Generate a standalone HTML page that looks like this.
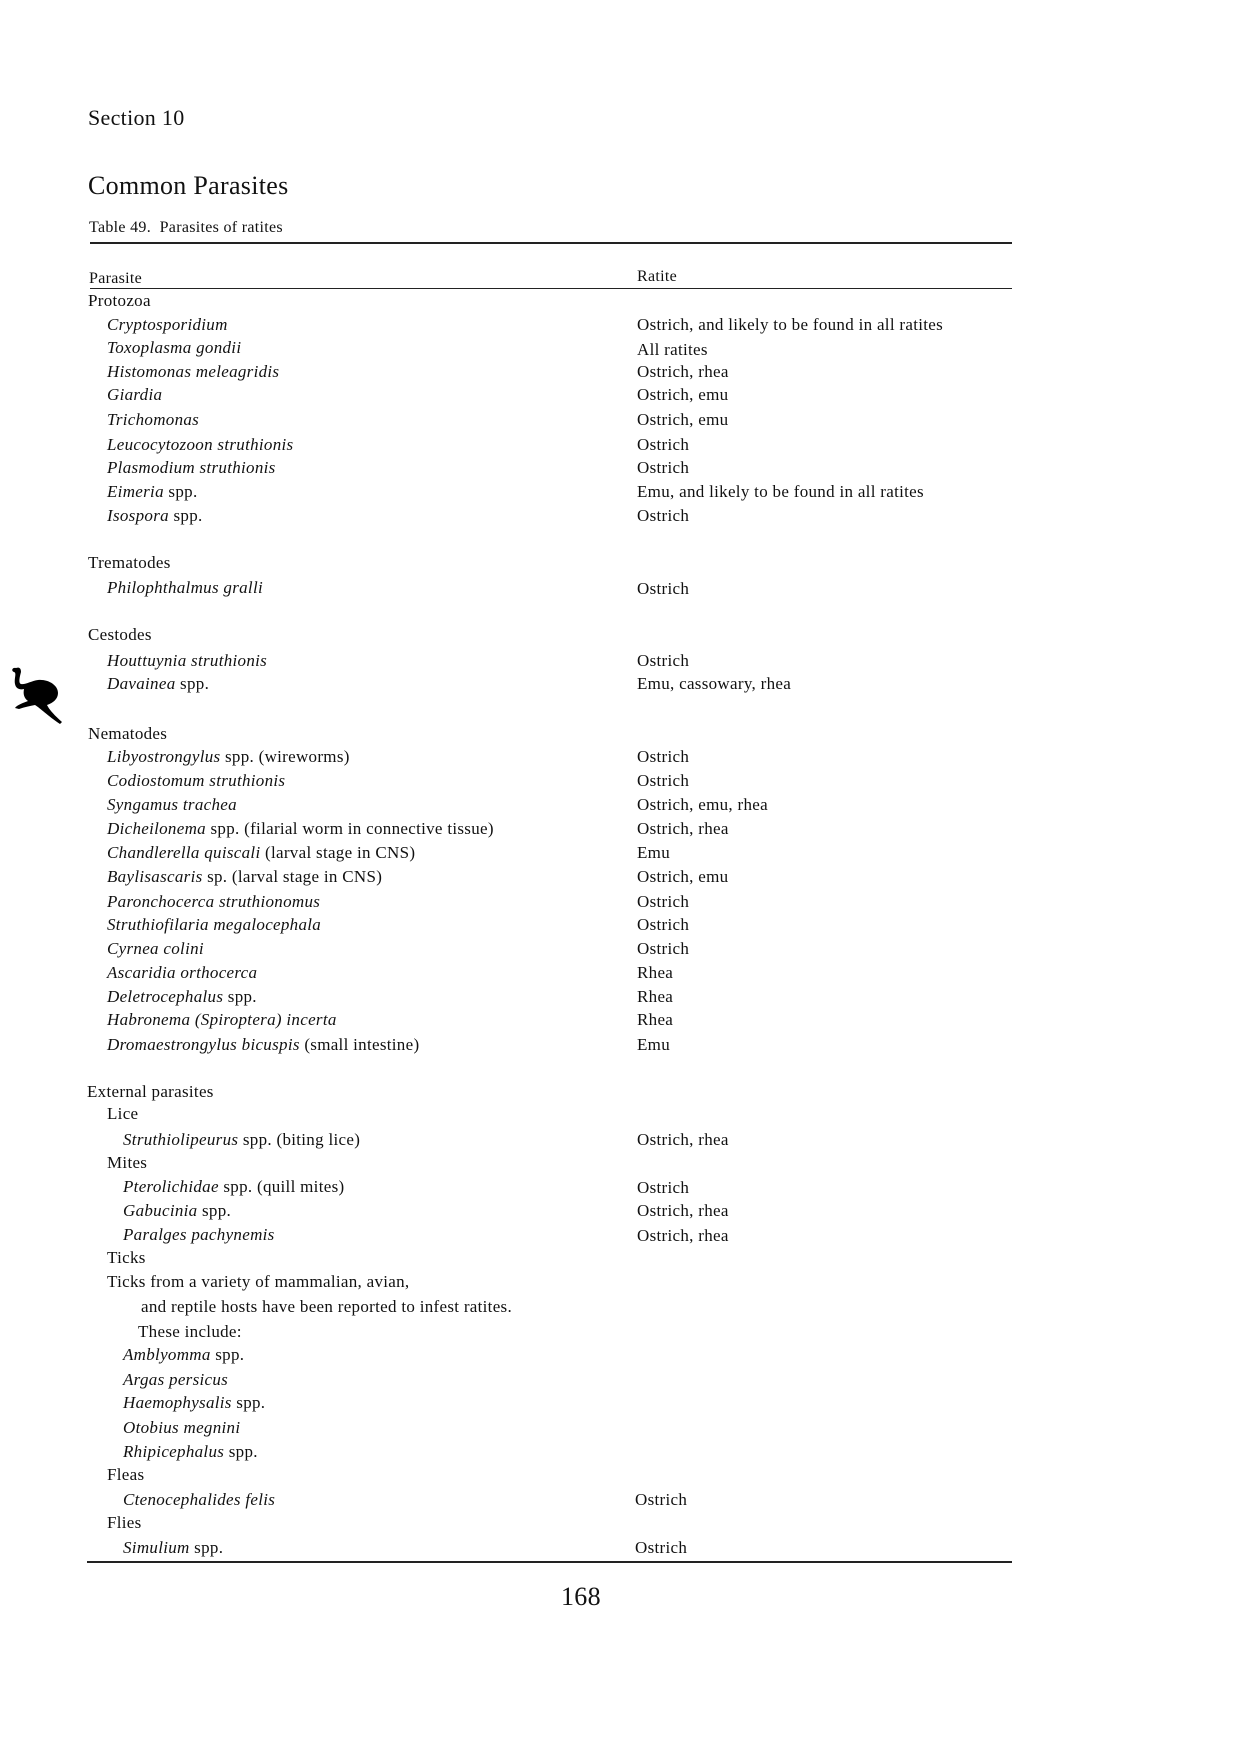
<!DOCTYPE html>
<html><head><meta charset="utf-8"><style>
html,body{margin:0;padding:0;background:#fff;}
body{width:1240px;height:1755px;position:relative;overflow:hidden;font-family:"Liberation Serif",serif;color:#111;}
.t{position:absolute;font-size:17px;line-height:20px;white-space:nowrap;letter-spacing:0.3px;}
i{font-style:italic;}
.r{position:absolute;background:#222;}
</style></head><body>
<div class="t" style="left:88px;top:104px;font-size:22px;line-height:28px">Section 10</div>
<div class="t" style="left:88px;top:170px;font-size:26px;line-height:32px">Common Parasites</div>
<div class="t" style="left:89px;top:218px;font-size:16px">Table 49. &nbsp;Parasites of ratites</div>
<div class="r" style="left:90px;top:242px;width:922px;height:1.5px"></div>
<div class="t" style="left:89px;top:269px;font-size:16px">Parasite</div>
<div class="t" style="left:637px;top:267px;font-size:16px">Ratite</div>
<div class="r" style="left:90px;top:288px;width:922px;height:1.2px"></div>

<svg style="position:absolute;left:8px;top:664px" width="60" height="62" viewBox="0 0 60 62">
<path d="M8 4 C4 3 3 7 6 8 C9 9 6 14 7 20 C8 25 12 26 16 25 C15 30 16 34 20 37 C15 39 9 41 7 44 L11 45 C17 43 22 42 27 41 C32 44 40 52 52 60 L54 58 C45 50 41 45 39 41 C45 39 50 35 50 29 C50 21 40 15 30 16 C23 17 17 21 13 20 C10 19 12 12 13 8 C13 4 11 3 8 4 Z" fill="#000"/>
</svg>

<div class="t" style="left:88px;top:291px">Protozoa</div>
<div class="t" style="left:107px;top:315px"><i>Cryptosporidium</i></div><div class="t" style="left:637px;top:315px">Ostrich, and likely to be found in all ratites</div>
<div class="t" style="left:107px;top:338px"><i>Toxoplasma gondii</i></div><div class="t" style="left:637px;top:340px">All ratites</div>
<div class="t" style="left:107px;top:362px"><i>Histomonas meleagridis</i></div><div class="t" style="left:637px;top:362px">Ostrich, rhea</div>
<div class="t" style="left:107px;top:385px"><i>Giardia</i></div><div class="t" style="left:637px;top:385px">Ostrich, emu</div>
<div class="t" style="left:107px;top:410px"><i>Trichomonas</i></div><div class="t" style="left:637px;top:410px">Ostrich, emu</div>
<div class="t" style="left:107px;top:435px"><i>Leucocytozoon struthionis</i></div><div class="t" style="left:637px;top:435px">Ostrich</div>
<div class="t" style="left:107px;top:458px"><i>Plasmodium struthionis</i></div><div class="t" style="left:637px;top:458px">Ostrich</div>
<div class="t" style="left:107px;top:482px"><i>Eimeria</i> spp.</div><div class="t" style="left:637px;top:482px">Emu, and likely to be found in all ratites</div>
<div class="t" style="left:107px;top:506px"><i>Isospora</i> spp.</div><div class="t" style="left:637px;top:506px">Ostrich</div>

<div class="t" style="left:88px;top:553px">Trematodes</div>
<div class="t" style="left:107px;top:578px"><i>Philophthalmus gralli</i></div><div class="t" style="left:637px;top:579px">Ostrich</div>

<div class="t" style="left:88px;top:625px">Cestodes</div>
<div class="t" style="left:107px;top:651px"><i>Houttuynia struthionis</i></div><div class="t" style="left:637px;top:651px">Ostrich</div>
<div class="t" style="left:107px;top:674px"><i>Davainea</i> spp.</div><div class="t" style="left:637px;top:674px">Emu, cassowary, rhea</div>

<div class="t" style="left:88px;top:724px">Nematodes</div>
<div class="t" style="left:107px;top:747px"><i>Libyostrongylus</i> spp. (wireworms)</div><div class="t" style="left:637px;top:747px">Ostrich</div>
<div class="t" style="left:107px;top:771px"><i>Codiostomum struthionis</i></div><div class="t" style="left:637px;top:771px">Ostrich</div>
<div class="t" style="left:107px;top:795px"><i>Syngamus trachea</i></div><div class="t" style="left:637px;top:795px">Ostrich, emu, rhea</div>
<div class="t" style="left:107px;top:819px"><i>Dicheilonema</i> spp. (filarial worm in connective tissue)</div><div class="t" style="left:637px;top:819px">Ostrich, rhea</div>
<div class="t" style="left:107px;top:843px"><i>Chandlerella quiscali</i> (larval stage in CNS)</div><div class="t" style="left:637px;top:843px">Emu</div>
<div class="t" style="left:107px;top:867px"><i>Baylisascaris</i> sp. (larval stage in CNS)</div><div class="t" style="left:637px;top:867px">Ostrich, emu</div>
<div class="t" style="left:107px;top:892px"><i>Paronchocerca struthionomus</i></div><div class="t" style="left:637px;top:892px">Ostrich</div>
<div class="t" style="left:107px;top:915px"><i>Struthiofilaria megalocephala</i></div><div class="t" style="left:637px;top:915px">Ostrich</div>
<div class="t" style="left:107px;top:939px"><i>Cyrnea colini</i></div><div class="t" style="left:637px;top:939px">Ostrich</div>
<div class="t" style="left:107px;top:963px"><i>Ascaridia orthocerca</i></div><div class="t" style="left:637px;top:963px">Rhea</div>
<div class="t" style="left:107px;top:987px"><i>Deletrocephalus</i> spp.</div><div class="t" style="left:637px;top:987px">Rhea</div>
<div class="t" style="left:107px;top:1010px"><i>Habronema (Spiroptera) incerta</i></div><div class="t" style="left:637px;top:1010px">Rhea</div>
<div class="t" style="left:107px;top:1035px"><i>Dromaestrongylus bicuspis</i> (small intestine)</div><div class="t" style="left:637px;top:1035px">Emu</div>

<div class="t" style="left:87px;top:1082px">External parasites</div>
<div class="t" style="left:107px;top:1104px">Lice</div>
<div class="t" style="left:123px;top:1130px"><i>Struthiolipeurus</i> spp. (biting lice)</div><div class="t" style="left:637px;top:1130px">Ostrich, rhea</div>
<div class="t" style="left:107px;top:1153px">Mites</div>
<div class="t" style="left:123px;top:1177px"><i>Pterolichidae</i> spp. (quill mites)</div><div class="t" style="left:637px;top:1178px">Ostrich</div>
<div class="t" style="left:123px;top:1201px"><i>Gabucinia</i> spp.</div><div class="t" style="left:637px;top:1201px">Ostrich, rhea</div>
<div class="t" style="left:123px;top:1225px"><i>Paralges pachynemis</i></div><div class="t" style="left:637px;top:1226px">Ostrich, rhea</div>
<div class="t" style="left:107px;top:1248px">Ticks</div>
<div class="t" style="left:107px;top:1272px">Ticks from a variety of mammalian, avian,</div>
<div class="t" style="left:141px;top:1297px">and reptile hosts have been reported to infest ratites.</div>
<div class="t" style="left:138px;top:1322px">These include:</div>
<div class="t" style="left:123px;top:1345px"><i>Amblyomma</i> spp.</div>
<div class="t" style="left:123px;top:1370px"><i>Argas persicus</i></div>
<div class="t" style="left:123px;top:1393px"><i>Haemophysalis</i> spp.</div>
<div class="t" style="left:123px;top:1418px"><i>Otobius megnini</i></div>
<div class="t" style="left:123px;top:1442px"><i>Rhipicephalus</i> spp.</div>
<div class="t" style="left:107px;top:1465px">Fleas</div>
<div class="t" style="left:123px;top:1490px"><i>Ctenocephalides felis</i></div><div class="t" style="left:635px;top:1490px">Ostrich</div>
<div class="t" style="left:107px;top:1513px">Flies</div>
<div class="t" style="left:123px;top:1538px"><i>Simulium</i> spp.</div><div class="t" style="left:635px;top:1538px">Ostrich</div>
<div class="r" style="left:87px;top:1561px;width:925px;height:2px"></div>
<div class="t" style="left:561px;top:1581px;font-size:26px;line-height:32px">168</div>
</body></html>
